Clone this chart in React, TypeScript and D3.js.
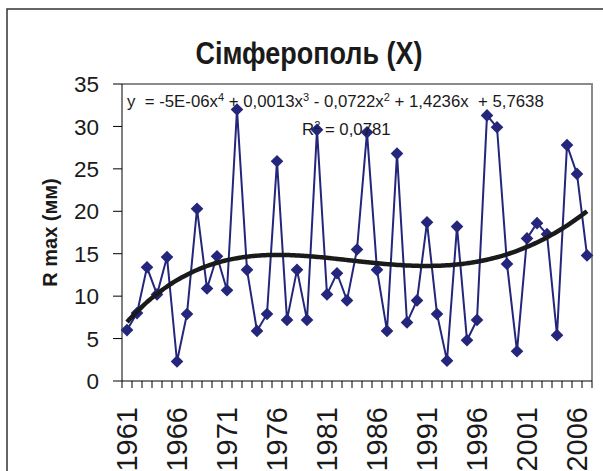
import React, { useMemo } from "react";
import * as d3 from "d3";

// years 1961..2007
const years: number[] = d3.range(1961, 2008);

// R max (mm)
const rmax: number[] = [
  6.0, 8.0, 13.4, 10.2, 14.6, 2.3, 7.9, 20.3, 10.9, 14.7,
  10.7, 32.0, 13.1, 5.9, 7.9, 25.9, 7.2, 13.1, 7.2, 29.6,
  10.2, 12.7, 9.5, 15.5, 29.3, 13.1, 5.9, 26.8, 6.9, 9.5,
  18.7, 7.9, 2.4, 18.2, 4.8, 7.2, 31.3, 29.9, 13.8, 3.5,
  16.8, 18.6, 17.3, 5.4, 27.8, 24.4, 14.8,
];

const yTicks: number[] = [0, 5, 10, 15, 20, 25, 30, 35];
const xLabelYears: number[] = [1961, 1966, 1971, 1976, 1981, 1986, 1991, 1996, 2001, 2006];

const title = "Сімферополь (Х)";
const yTitle = "R max (мм)";

const W = 603;
const H = 471;
const plot = { left: 122, right: 592, top: 84, bottom: 381 };
const FONT = "'Liberation Sans', Arial, Helvetica, sans-serif";

// 4th order least squares fit (what the spreadsheet trendline does)
function polyFit(xs: number[], ys: number[], deg: number) {
  const c = d3.mean(xs)!;
  const s = (d3.max(xs)! - d3.min(xs)!) / 2;
  const n = deg + 1;
  const A = Array.from({ length: n }, () => new Array(n + 1).fill(0));
  xs.forEach((x, i) => {
    const t = (x - c) / s;
    for (let r = 0; r < n; r++) {
      for (let k = 0; k < n; k++) A[r][k] += Math.pow(t, r + k);
      A[r][n] += ys[i] * Math.pow(t, r);
    }
  });
  for (let col = 0; col < n; col++) {
    let piv = col;
    for (let r = col + 1; r < n; r++) if (Math.abs(A[r][col]) > Math.abs(A[piv][col])) piv = r;
    [A[col], A[piv]] = [A[piv], A[col]];
    for (let r = 0; r < n; r++) {
      if (r === col) continue;
      const f = A[r][col] / A[col][col];
      for (let k = col; k <= n; k++) A[r][k] -= f * A[col][k];
    }
  }
  const coef = A.map((row, i) => row[n] / row[i]);
  return (x: number) => {
    const t = (x - c) / s;
    return coef.reduce((acc, a, i) => acc + a * Math.pow(t, i), 0);
  };
}

export default function App() {
  const x = useMemo(
    () => d3.scaleBand<number>().domain(years).range([plot.left, plot.right]).padding(0),
    []
  );
  const y = useMemo(() => d3.scaleLinear().domain([0, 35]).range([plot.bottom, plot.top]), []);
  const bw = x.bandwidth();
  const cx = (yr: number) => x(yr)! + bw / 2;

  const idx = years.map((_, i) => i + 1);
  const fit = useMemo(() => polyFit(idx, rmax, 4), []);
  const trendPts = d3.range(1, years.length + 0.001, 0.25).map((t) => [
    plot.left + bw / 2 + (t - 1) * bw,
    y(fit(t)),
  ]) as [number, number][];

  const line = d3
    .line<number>()
    .x((_, i) => cx(years[i]))
    .y((d) => y(d));
  const trend = d3.line().curve(d3.curveMonotoneX);
  const diamond = d3.symbol().type(d3.symbolSquare).size(80)();

  const navy = "#23267a";

  return (
    <div style={{ position: "fixed", left: 0, top: 0 }}>
      <svg width={W} height={H} style={{ display: "block", background: "#fff" }}>
        {/* chart border */}
        <rect x={7} y={9} width={W + 20} height={H + 20} fill="none" stroke="#333" strokeWidth={1.5} />

        {/* plot area frame */}
        <path
          d={`M${plot.left},${plot.top}H${plot.right}V${plot.bottom}`}
          fill="none"
          stroke="#8a8a8a"
          strokeWidth={2}
        />

        {/* y axis */}
        <line x1={plot.left} x2={plot.left} y1={plot.top} y2={plot.bottom} stroke="#000" />
        {yTicks.map((t) => (
          <g key={t}>
            <line x1={plot.left - 9} x2={plot.left} y1={y(t)} y2={y(t)} stroke="#000" />
            <text
              x={plot.left - 23}
              y={y(t)}
              dy="0.36em"
              textAnchor="end"
              fontFamily={FONT}
              fontSize={22.5}
              fill="#1a1a1a"
            >
              {t}
            </text>
          </g>
        ))}
        <text
          transform={`translate(57,${(plot.top + plot.bottom) / 2}) rotate(-90)`}
          textAnchor="middle"
          fontFamily={FONT}
          fontSize={20}
          fontWeight="bold"
          fill="#1a1a1a"
        >
          {yTitle}
        </text>

        {/* x axis */}
        <line x1={plot.left} x2={plot.right} y1={plot.bottom} y2={plot.bottom} stroke="#000" />
        {years.concat([years[years.length - 1] + 1]).map((yr, i) => (
          <line
            key={yr}
            x1={plot.left + i * bw}
            x2={plot.left + i * bw}
            y1={plot.bottom}
            y2={plot.bottom + 7}
            stroke="#000"
          />
        ))}
        {xLabelYears.map((yr) => (
          <text
            key={yr}
            transform={`translate(${cx(yr)},${plot.bottom + 26}) rotate(-90)`}
            dy="0.36em"
            textAnchor="end"
            fontFamily={FONT}
            fontSize={29}
            fill="#1a1a1a"
          >
            {yr}
          </text>
        ))}

        {/* series */}
        <path d={line(rmax) ?? ""} fill="none" stroke={navy} strokeWidth={2} />
        {rmax.map((v, i) => (
          <path
            key={years[i]}
            d={diamond ?? ""}
            transform={`translate(${cx(years[i])},${y(v)}) rotate(45)`}
            fill={navy}
          />
        ))}

        {/* trendline */}
        <path d={trend(trendPts) ?? ""} fill="none" stroke="#1a1a1a" strokeWidth={4.5} />

        {/* equation */}
        <text x={127} y={107} fontFamily={FONT} fontSize={16.8} fill="#1a1a1a" xmlSpace="preserve">
          <tspan>y  = -5E-06x</tspan>
          <tspan dy={-6} fontSize={11}>4</tspan>
          <tspan dy={6}> + 0,0013x</tspan>
          <tspan dy={-6} fontSize={11}>3</tspan>
          <tspan dy={6}> - 0,0722x</tspan>
          <tspan dy={-6} fontSize={11}>2</tspan>
          <tspan dy={6}> + 1,4236x  + 5,7638</tspan>
        </text>
        <text x={302} y={135} fontFamily={FONT} fontSize={16.8} fill="#1a1a1a" xmlSpace="preserve">
          <tspan>R</tspan>
          <tspan dy={-6} fontSize={11}>2</tspan>
          <tspan dy={6}> = 0,0781</tspan>
        </text>

        {/* title */}
        <text
          transform="translate(309,64) scale(0.87,1)"
          textAnchor="middle"
          fontFamily={FONT}
          fontSize={31}
          fontWeight="bold"
          fill="#1a1a1a"
        >
          {title}
        </text>
      </svg>
    </div>
  );
}
